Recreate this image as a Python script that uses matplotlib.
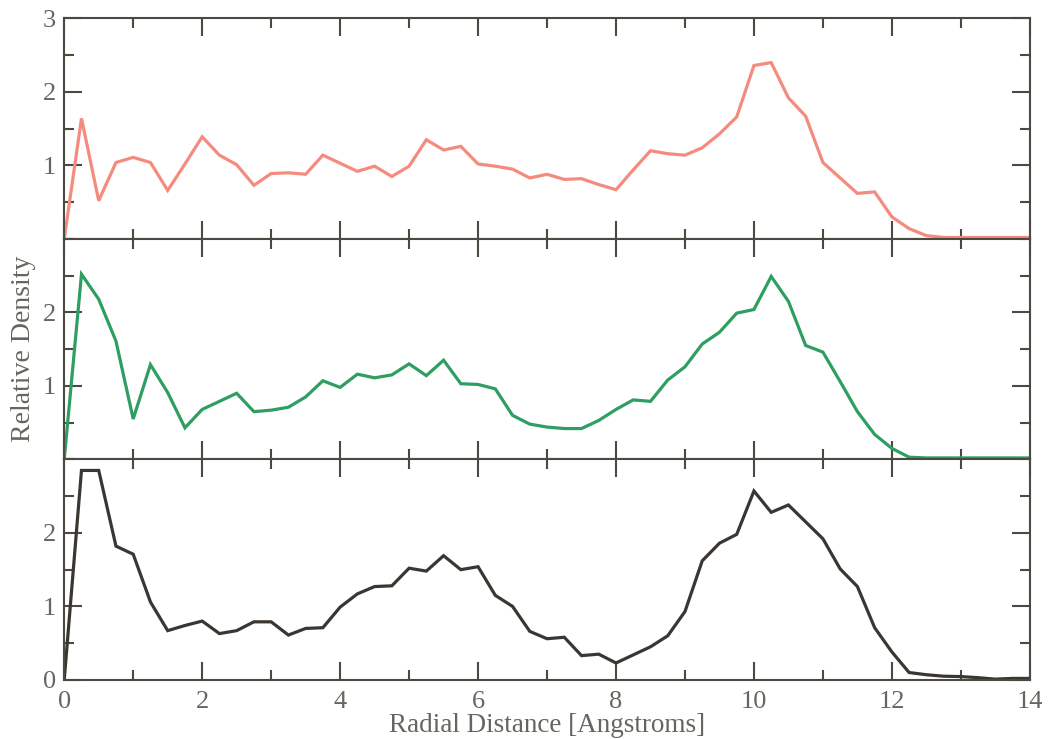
import numpy as np
import matplotlib
matplotlib.use("Agg")
import matplotlib.pyplot as plt
from matplotlib.ticker import MultipleLocator, FixedLocator

plt.rcParams['font.family'] = ['Liberation Serif', 'DejaVu Serif']

# Radial distance grid (Angstroms), 0.25 A bins
radius = np.linspace(0, 14, 57)

density_top = [
    0.00, 1.64, 0.52, 1.04, 1.11, 1.04, 0.66, 1.02,
    1.39, 1.14, 1.01, 0.73, 0.89, 0.90, 0.88, 1.14,
    1.03, 0.92, 0.99, 0.85, 0.99, 1.35, 1.21, 1.26,
    1.02, 0.99, 0.95, 0.83, 0.88, 0.81, 0.82, 0.74,
    0.67, 0.94, 1.20, 1.16, 1.14, 1.24, 1.43, 1.66,
    2.36, 2.40, 1.92, 1.67, 1.04, 0.83, 0.62, 0.64,
    0.30, 0.14, 0.045, 0.02, 0.02, 0.02, 0.02, 0.02,
    0.02,
]
density_mid = [
    0.00, 2.52, 2.18, 1.61, 0.55, 1.29, 0.91, 0.43,
    0.68, 0.79, 0.90, 0.65, 0.67, 0.71, 0.85, 1.07,
    0.98, 1.16, 1.11, 1.15, 1.30, 1.14, 1.35, 1.03,
    1.02, 0.96, 0.60, 0.48, 0.44, 0.42, 0.42, 0.53,
    0.68, 0.81, 0.79, 1.08, 1.26, 1.57, 1.73, 1.99,
    2.04, 2.49, 2.15, 1.55, 1.46, 1.06, 0.65, 0.34,
    0.15, 0.03, 0.02, 0.02, 0.02, 0.02, 0.02, 0.02,
    0.02,
]
density_bot = [
    0.00, 2.85, 2.85, 1.82, 1.71, 1.06, 0.67, 0.74,
    0.80, 0.63, 0.67, 0.79, 0.79, 0.61, 0.70, 0.71,
    0.99, 1.17, 1.27, 1.28, 1.52, 1.48, 1.69, 1.50,
    1.54, 1.15, 1.00, 0.66, 0.56, 0.58, 0.33, 0.35,
    0.23, 0.34, 0.45, 0.60, 0.93, 1.62, 1.86, 1.98,
    2.57, 2.28, 2.38, 2.15, 1.92, 1.51, 1.27, 0.71,
    0.38, 0.10, 0.07, 0.05, 0.045, 0.03, 0.01, 0.02,
    0.02,
]

series = [density_top, density_mid, density_bot]
colors = ['#f58b7e', '#2e9e62', '#3b3631']
ytick_sets = [[1, 2, 3], [1, 2], [0, 1, 2]]
x_ticks = [0, 2, 4, 6, 8, 10, 12, 14]

axis_color = '#4a4a42'
text_color = '#66665f'

fig = plt.figure(figsize=(10.53, 7.39), dpi=100)
left, right = 0.061, 0.978
top, bottom = 0.975, 0.080
h = (top - bottom) / 3

axes = []
for i in range(3):
    ax = fig.add_axes([left, top - (i + 1) * h, right - left, h])
    axes.append(ax)
    ax.plot(radius, series[i], color=colors[i], lw=2.3, solid_joinstyle='miter')
    ax.set_xlim(0, 14)
    ax.set_ylim(0, 3)
    ax.xaxis.set_major_locator(FixedLocator(x_ticks))
    ax.xaxis.set_minor_locator(MultipleLocator(1))
    ax.yaxis.set_major_locator(FixedLocator(ytick_sets[i]))
    ax.yaxis.set_minor_locator(MultipleLocator(0.5))
    ax.tick_params(which='both', direction='in', top=True, right=True,
                   color=axis_color, width=1.5, labelsize=19,
                   labelcolor=text_color)
    ax.tick_params(which='major', length=13)
    ax.tick_params(which='minor', length=7)
    ax.tick_params(axis='y', pad=6)
    ax.tick_params(axis='x', pad=8)
    for s in ax.spines.values():
        s.set_color(axis_color)
        s.set_linewidth(1.5)
    if i < 2:
        ax.tick_params(axis='x', labelbottom=False)

axes[1].set_ylabel('Relative Density', fontsize=20, color=text_color)
axes[1].yaxis.set_label_coords(-0.029, 0.5)
axes[2].set_xlabel('Radial Distance [Angstroms]', fontsize=19.5, color=text_color)
axes[2].xaxis.set_label_coords(0.5, -0.148)

fig.savefig('out.png', dpi=100)
